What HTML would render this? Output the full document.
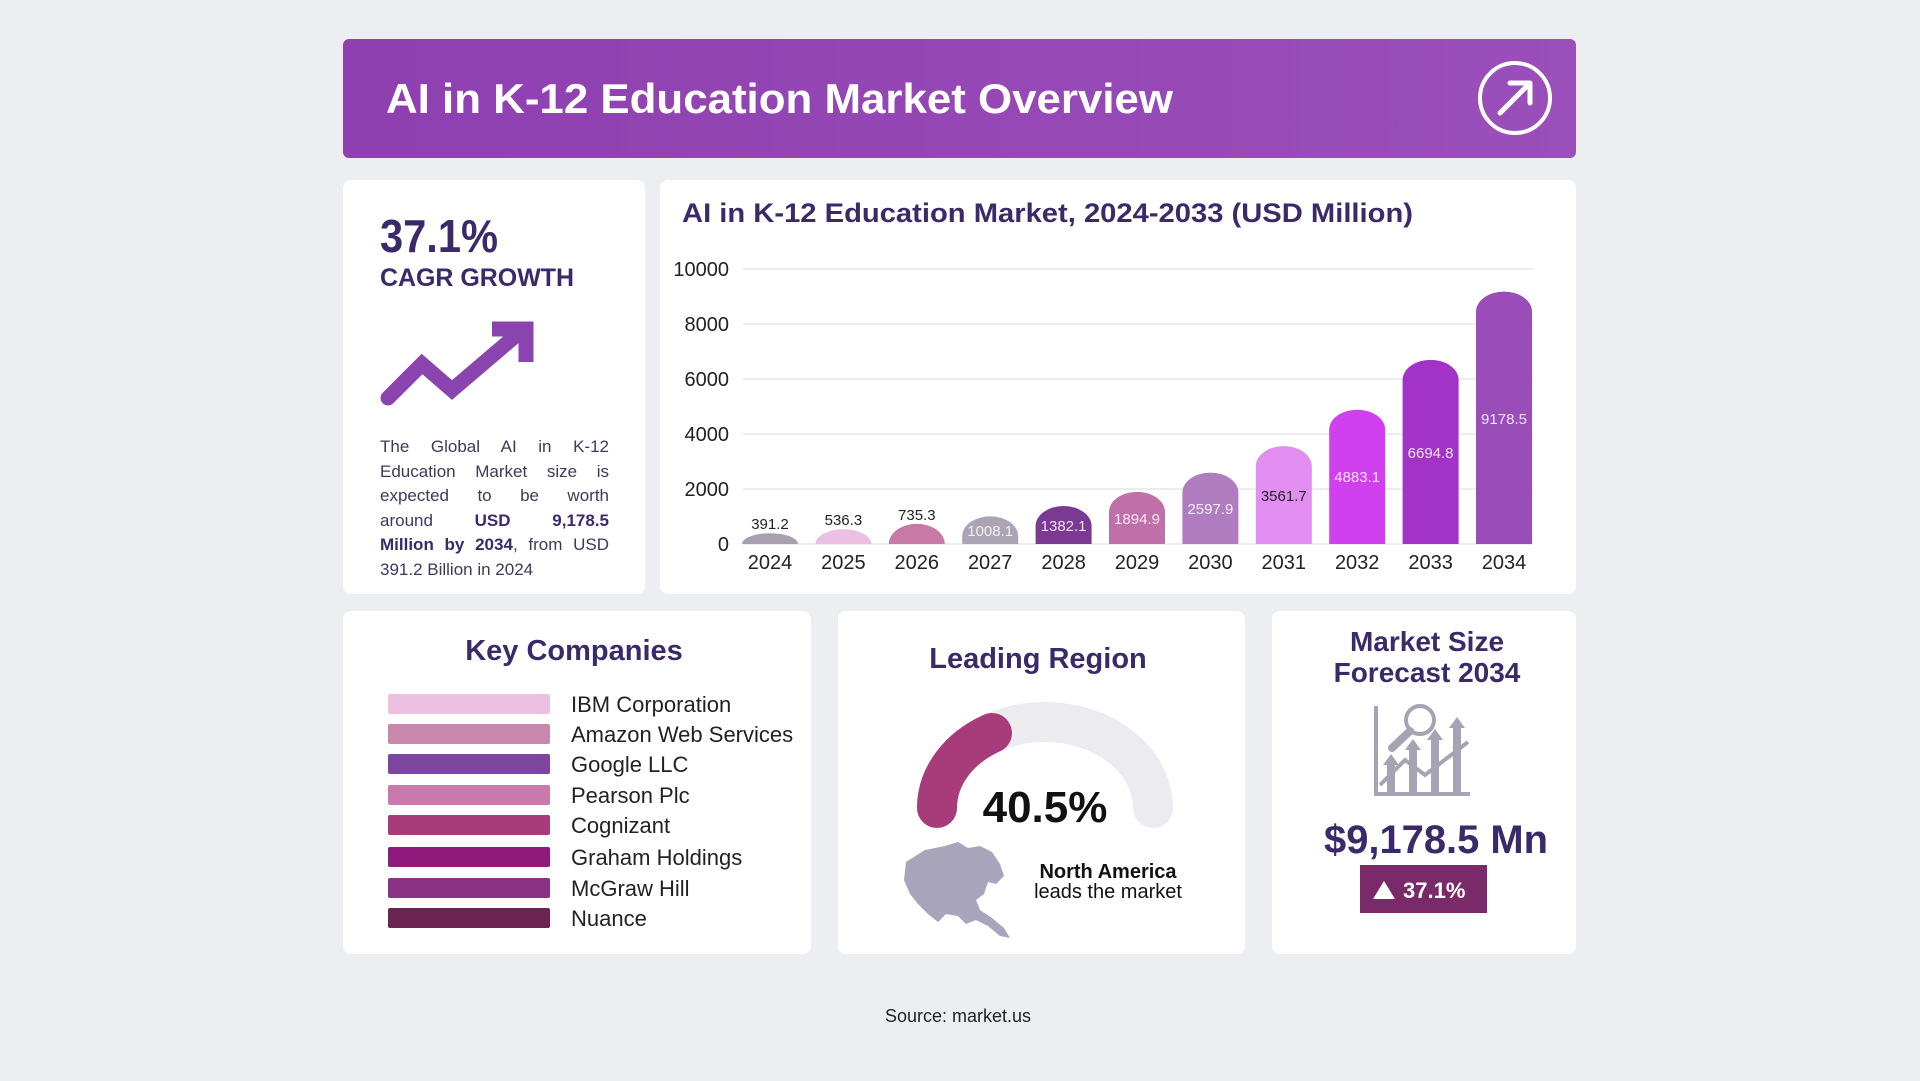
<!DOCTYPE html>
<html><head><meta charset="utf-8"><style>
html,body{margin:0;padding:0;background:#eceef2;}
svg{display:block;font-family:"Liberation Sans",sans-serif;}
.p{font-family:"Liberation Sans",sans-serif;font-size:17px;line-height:24.5px;color:#3a3a5a;width:229px;}
.p div{text-align:justify;text-align-last:justify;white-space:nowrap;}
.p div.l{text-align-last:left;}
.p b{color:#3a2a6a;}
</style></head><body>
<svg width="1920" height="1081" viewBox="0 0 1920 1081" xmlns="http://www.w3.org/2000/svg">
<defs>
<linearGradient id="hg" x1="0" x2="1"><stop offset="0" stop-color="#8e3fb0"/><stop offset="1" stop-color="#9b4fba"/></linearGradient>
</defs>
<rect width="1920" height="1081" fill="#eceef2"/>
<rect x="343" y="39" width="1233" height="119" rx="6" fill="url(#hg)"/>
<text x="386" y="113" font-size="42" font-weight="bold" fill="#fff" textLength="787" lengthAdjust="spacingAndGlyphs">AI in K-12 Education Market Overview</text>
<circle cx="1515" cy="98" r="35" fill="none" stroke="#fff" stroke-width="4"/>
<path d="M1500 113 L1529 84 M1510 83 L1530 83 L1530 103" stroke="#fff" stroke-width="5" fill="none" stroke-linecap="round" stroke-linejoin="round"/>

<rect x="343" y="180" width="302" height="414" rx="8" fill="#fff"/>
<rect x="660" y="180" width="916" height="414" rx="8" fill="#fff"/>
<rect x="343" y="611" width="468" height="343" rx="8" fill="#fff"/>
<rect x="838" y="611" width="407" height="343" rx="8" fill="#fff"/>
<rect x="1272" y="611" width="304" height="343" rx="8" fill="#fff"/>

<text x="380" y="252" font-size="46" font-weight="bold" fill="#3a2a6a" textLength="118" lengthAdjust="spacingAndGlyphs">37.1%</text>
<text x="380" y="286" font-size="25" font-weight="bold" fill="#3a2a6a" textLength="194" lengthAdjust="spacingAndGlyphs">CAGR GROWTH</text>
<polyline points="388,398 422,364 452,390 520,332" fill="none" stroke="#8a44b0" stroke-width="15" stroke-linejoin="miter" stroke-linecap="round"/>
<polyline points="492,329 526,329 526,362" fill="none" stroke="#8a44b0" stroke-width="15" stroke-linejoin="miter"/>
<foreignObject x="380" y="435" width="240" height="160">
<div xmlns="http://www.w3.org/1999/xhtml" class="p">
<div>The Global AI in K-12</div>
<div>Education Market size is</div>
<div>expected to be worth</div>
<div>around <b>USD 9,178.5</b></div>
<div><b>Million by 2034</b>, from USD</div>
<div class="l">391.2 Billion in 2024</div>
</div>
</foreignObject>

<text x="682" y="222" font-size="27" font-weight="bold" fill="#3a2a6a" textLength="731" lengthAdjust="spacingAndGlyphs">AI in K-12 Education Market, 2024-2033 (USD Million)</text>
<g stroke="#e6e6ea" stroke-width="1.5">
<line x1="743" x2="1533" y1="269" y2="269"/><line x1="743" x2="1533" y1="324" y2="324"/>
<line x1="743" x2="1533" y1="379" y2="379"/><line x1="743" x2="1533" y1="434" y2="434"/>
<line x1="743" x2="1533" y1="489" y2="489"/><line x1="743" x2="1533" y1="544" y2="544"/>
</g>
<g font-size="20" fill="#222" text-anchor="end">
<text x="729" y="276">10000</text><text x="729" y="331">8000</text><text x="729" y="386">6000</text>
<text x="729" y="441">4000</text><text x="729" y="496">2000</text><text x="729" y="551">0</text>
</g>
<g>
<path d="M742 544 A28 10.8 0 0 1 798 544 Z" fill="#a8a0b0"/>
<path d="M815.4 544 A28 14.7 0 0 1 871.4 544 Z" fill="#ecc0e2"/>
<path d="M888.8 544 A28 20.2 0 0 1 944.8 544 Z" fill="#c87aa6"/>
<path d="M962.2 544 V536.3 A28 20 0 0 1 1018.2 536.3 V544 Z" fill="#aca4b4"/>
<path d="M1035.6 544 V526 A28 20 0 0 1 1091.6 526 V544 Z" fill="#7b3a92"/>
<path d="M1109 544 V511.9 A28 20 0 0 1 1165 511.9 V544 Z" fill="#c070a8"/>
<path d="M1182.4 544 V492.6 A28 20 0 0 1 1238.4 492.6 V544 Z" fill="#b07cc0"/>
<path d="M1255.8 544 V466.1 A28 20 0 0 1 1311.8 466.1 V544 Z" fill="#e18ef0"/>
<path d="M1329.2 544 V429.7 A28 20 0 0 1 1385.2 429.7 V544 Z" fill="#d040ee"/>
<path d="M1402.6 544 V379.9 A28 20 0 0 1 1458.6 379.9 V544 Z" fill="#a232c8"/>
<path d="M1476 544 V311.6 A28 20 0 0 1 1532 311.6 V544 Z" fill="#9a4cb8"/>
</g>
<g font-size="15" text-anchor="middle">
<text x="770" y="529" fill="#222">391.2</text>
<text x="843.4" y="525" fill="#222">536.3</text>
<text x="916.8" y="520" fill="#222">735.3</text>
<text x="990.2" y="536" fill="#f0f0f0">1008.1</text>
<text x="1063.6" y="531" fill="#f0e0f0">1382.1</text>
<text x="1137" y="524" fill="#f8e8f4">1894.9</text>
<text x="1210.4" y="514" fill="#f4ecf8">2597.9</text>
<text x="1283.8" y="501" fill="#222">3561.7</text>
<text x="1357.2" y="482" fill="#f8e0fc">4883.1</text>
<text x="1430.6" y="458" fill="#f4e0fa">6694.8</text>
<text x="1504" y="424" fill="#f0e4f6">9178.5</text>
</g>
<g font-size="20" fill="#222" text-anchor="middle">
<text x="770" y="569">2024</text><text x="843.4" y="569">2025</text><text x="916.8" y="569">2026</text>
<text x="990.2" y="569">2027</text><text x="1063.6" y="569">2028</text><text x="1137" y="569">2029</text>
<text x="1210.4" y="569">2030</text><text x="1283.8" y="569">2031</text><text x="1357.2" y="569">2032</text>
<text x="1430.6" y="569">2033</text><text x="1504" y="569">2034</text>
</g>

<text x="574" y="660" font-size="29" font-weight="bold" fill="#3a2a6a" text-anchor="middle">Key Companies</text>
<g>
<rect x="388" y="694" width="162" height="20" rx="2" fill="#ecc0e2"/>
<rect x="388" y="724" width="162" height="20" rx="2" fill="#c888ac"/>
<rect x="388" y="754" width="162" height="20" rx="2" fill="#7e46a0"/>
<rect x="388" y="785" width="162" height="20" rx="2" fill="#c87aac"/>
<rect x="388" y="815" width="162" height="20" rx="2" fill="#a83c7a"/>
<rect x="388" y="847" width="162" height="20" rx="2" fill="#8e1a7c"/>
<rect x="388" y="878" width="162" height="20" rx="2" fill="#8a3284"/>
<rect x="388" y="908" width="162" height="20" rx="2" fill="#6a2552"/>
</g>
<g font-size="22" fill="#222">
<text x="571" y="712">IBM Corporation</text>
<text x="571" y="742">Amazon Web Services</text>
<text x="571" y="772">Google LLC</text>
<text x="571" y="803">Pearson Plc</text>
<text x="571" y="833">Cognizant</text>
<text x="571" y="865">Graham Holdings</text>
<text x="571" y="896">McGraw Hill</text>
<text x="571" y="926">Nuance</text>
</g>

<text x="1038" y="668" font-size="29" font-weight="bold" fill="#3a2a6a" text-anchor="middle">Leading Region</text>
<path d="M937 808 A108 86 0 0 1 1153 808" fill="none" stroke="#ececf0" stroke-width="40" stroke-linecap="round"/>
<path d="M937 808 A108 86 0 0 1 992 733" fill="none" stroke="#a83c7a" stroke-width="40" stroke-linecap="round"/>
<text x="1045" y="822" font-size="44" font-weight="bold" fill="#111" text-anchor="middle">40.5%</text>
<path d="M906 862 L925 850 L945 846 L958 842 L968 848 L980 846 L992 852 L1000 864 L1004 876 L996 884 L988 882 L984 894 L976 900 L980 910 L992 918 L1004 928 L1010 938 L1000 936 L988 926 L976 920 L966 924 L958 916 L946 914 L938 922 L928 914 L918 904 L910 894 L904 880 Z" fill="#a8a4bc"/>
<text x="1108" y="878" font-size="20" font-weight="bold" fill="#111" text-anchor="middle">North America</text>
<text x="1108" y="898" font-size="20" fill="#111" text-anchor="middle">leads the market</text>

<text x="1427" y="651" font-size="28" font-weight="bold" fill="#3a2a6a" text-anchor="middle">Market Size</text>
<text x="1427" y="682" font-size="28" font-weight="bold" fill="#3a2a6a" text-anchor="middle">Forecast 2034</text>
<g fill="#a6a4b4" stroke="#a6a4b4">
<path d="M1376 706 V794 H1470" fill="none" stroke-width="4"/>
<circle cx="1420" cy="720" r="14" fill="none" stroke-width="4"/>
<line x1="1410" y1="731" x2="1392" y2="748" stroke-width="8" stroke-linecap="round"/>
<rect x="1387" y="765" width="8" height="27" stroke="none"/>
<rect x="1409" y="750" width="8" height="42" stroke="none"/>
<rect x="1431" y="740" width="8" height="52" stroke="none"/>
<rect x="1453" y="728" width="8" height="64" stroke="none"/>
<path d="M1383 765 L1391 754 L1399 765 Z M1405 750 L1413 739 L1421 750 Z M1427 740 L1435 729 L1443 740 Z M1449 728 L1457 717 L1465 728 Z" stroke="none"/>
<polyline points="1380,785 1405,760 1425,775 1468,742" fill="none" stroke-width="4"/>
</g>
<text x="1436" y="853" font-size="40" font-weight="bold" fill="#3a2a6a" text-anchor="middle" textLength="224" lengthAdjust="spacingAndGlyphs">$9,178.5 Mn</text>
<rect x="1360" y="865" width="127" height="48" fill="#7a2a68"/>
<path d="M1373 899 L1384 881 L1395 899 Z" fill="#fff"/>
<text x="1403" y="898" font-size="22" font-weight="bold" fill="#fff">37.1%</text>

<text x="958" y="1022" font-size="18" fill="#222" text-anchor="middle">Source: market.us</text>
</svg>
</body></html>
